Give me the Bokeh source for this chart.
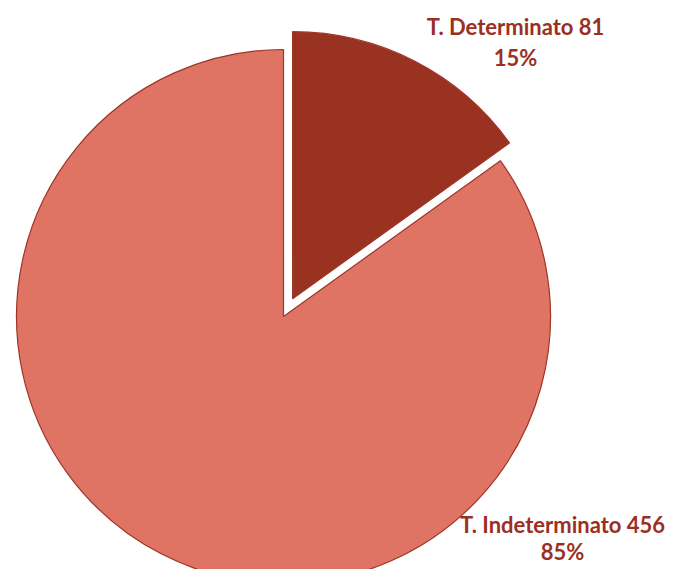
import math
from bokeh.plotting import figure
from bokeh.models import Range1d, ColumnDataSource
from bokeh.core.properties import value
from bokeh.embed import file_html
from bokeh.resources import INLINE

categories = ["T. Determinato", "T. Indeterminato"]
counts = [81, 456]
colors = ["#9A3222", "#DF7464"]

total = sum(counts)
fracs = [c / total for c in counts]

W, H = 670, 569
p = figure(width=W, height=H, output_backend="svg", toolbar_location=None,
           x_range=Range1d(0, W), y_range=Range1d(-H, 0),
           min_border=0)
p.axis.visible = False
p.grid.visible = False
p.outline_line_color = None
p.background_fill_color = "white"
p.border_fill_color = "white"

cx, cy = 283, -316
R = 267
explode = 20

start = math.pi / 2
xs, ys, sa, ea = [], [], [], []
for i, f in enumerate(fracs):
    end = start - f * 2 * math.pi
    mid = (start + end) / 2
    off = explode if i == 0 else 0
    xs.append(cx + off * math.cos(mid))
    ys.append(cy + off * math.sin(mid))
    sa.append(start)
    ea.append(end)
    start = end

src = ColumnDataSource(dict(x=xs, y=ys, sa=sa, ea=ea, color=colors))
p.wedge(x="x", y="y", radius=R, start_angle="sa", end_angle="ea",
        direction="clock", fill_color="color", line_color="#9E3528",
        line_width=1.2, source=src)

labels_1 = [f"{c} {n}" for c, n in zip(categories, counts)]
labels_2 = [f"{round(f * 100)}%" for f in fracs]
lx = [515, 562]
ly1 = [-26, -524]
ly2 = [-57, -551]
tsrc = ColumnDataSource(dict(x=lx + lx, y=ly1 + ly2, t=labels_1 + labels_2))
p.text(x="x", y="y", text="t", source=tsrc, text_font=value("Lato"),
       text_font_style="bold", text_font_size="22px", text_color="#9B2F22",
       text_align="center", text_baseline="middle")

open("out.html", "w").write(file_html(p, INLINE))
